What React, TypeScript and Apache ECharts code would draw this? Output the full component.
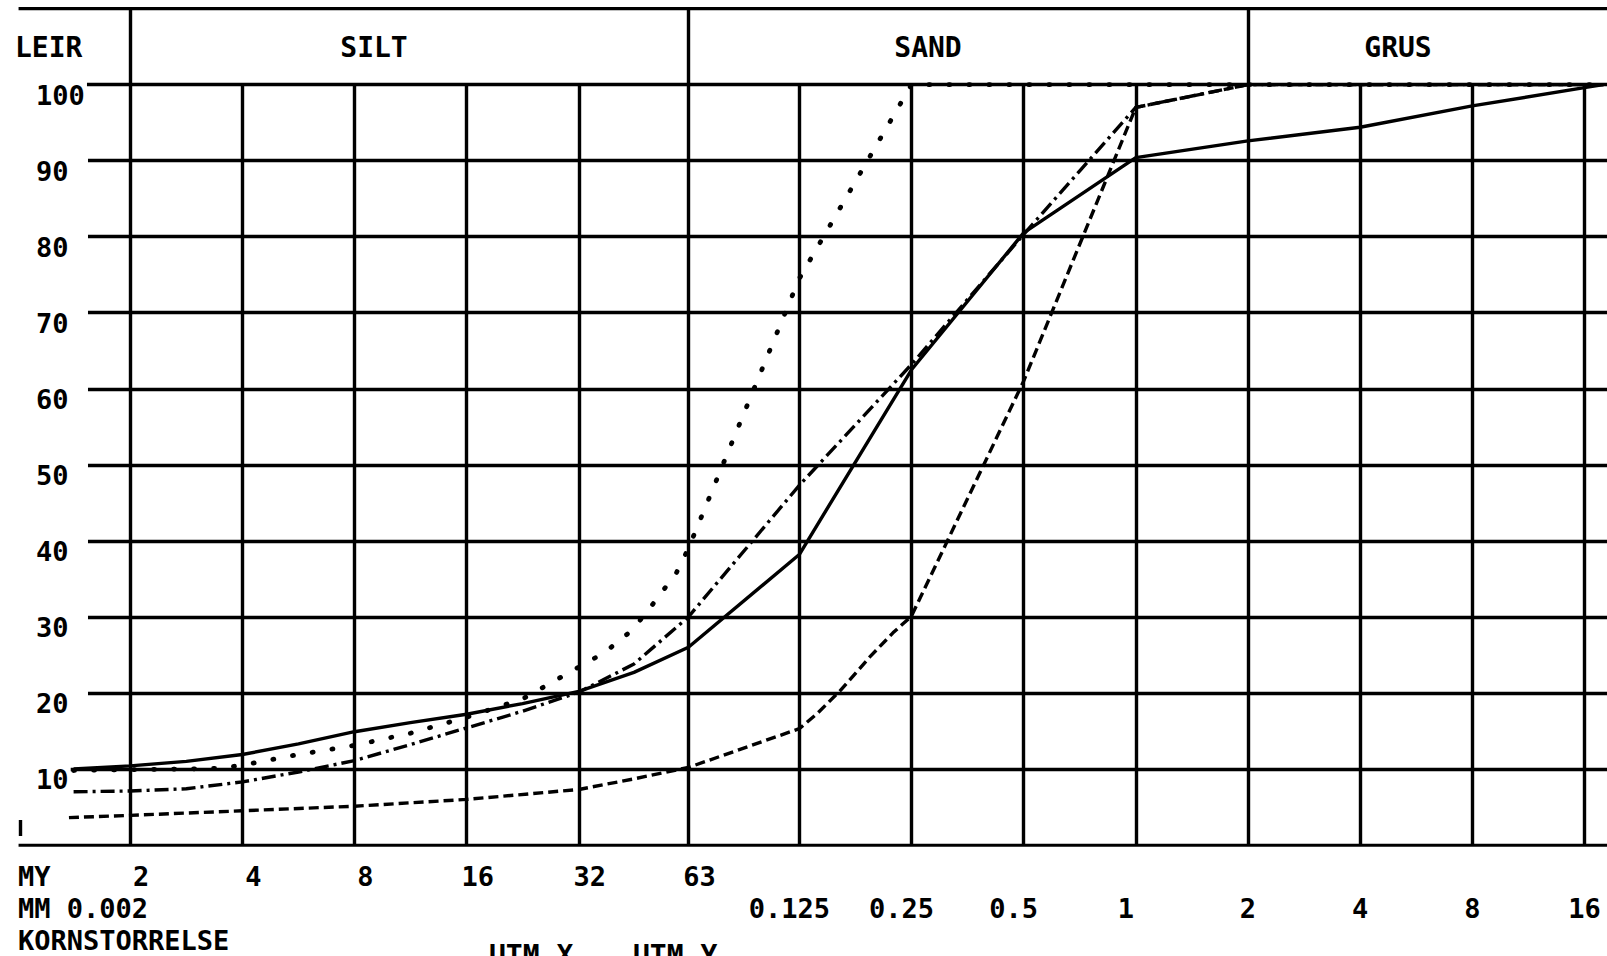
import React, { useEffect, useRef } from 'react';
import * as echarts from 'echarts';

// ---------- data (grain size in µm, cumulative percent) ----------
const gridSizesUm = [2, 4, 8, 16, 32, 63, 125, 250, 500, 1000, 2000, 4000, 8000, 16000];
const fractionBoundsUm = [2, 63, 2000];
const percentLevels = [0, 10, 20, 30, 40, 50, 60, 70, 80, 90, 100, 110];
const yTickValues = [10, 20, 30, 40, 50, 60, 70, 80, 90, 100];

const myTickSizesUm = [2, 4, 8, 16, 32, 63];
const myTickLabels = ['2', '4', '8', '16', '32', '63'];
const mmTickSizesUm = [125, 250, 500, 1000, 2000, 4000, 8000, 16000];
const mmTickLabels = ['0.125', '0.25', '0.5', '1', '2', '4', '8', '16'];

const fractionNames = ['LEIR', 'SILT', 'SAND', 'GRUS'];
const rowTitles = ['MY', 'MM 0.002', 'KORNSTORRELSE'];
const coordTitles = ['UTM X', 'UTM Y'];

const solidSizesUm = [1.41, 2, 2.83, 4, 5.66, 8, 11.3, 16, 22.6, 32, 45, 63, 125, 250, 500, 1000, 2000, 4000, 8000, 16000, 18000];
const solidPercent = [10.0, 10.4, 11.0, 11.9, 13.3, 14.9, 16.1, 17.2, 18.6, 20.2, 22.7, 26.0, 38.2, 62.5, 80.5, 90.4, 92.6, 94.4, 97.2, 99.6, 100];

const dashDotSizesUm = [1.41, 2, 2.83, 4, 5.66, 8, 11.3, 16, 22.6, 32, 45, 63, 125, 250, 500, 1000, 2000, 18000];
const dashDotPercent = [7.0, 7.1, 7.4, 8.3, 9.6, 11.1, 13.2, 15.4, 17.6, 20.1, 23.8, 30.0, 47.3, 63.2, 80.3, 97.0, 100, 100];

const dottedSizesUm = [1.41, 2, 2.83, 3.5, 4, 5.66, 8, 11.3, 16, 22.6, 32, 37.5, 44.6, 50.6, 58.5, 63, 125, 250, 18000];
const dottedPercent = [9.8, 9.9, 10.0, 10.1, 10.5, 11.9, 13.1, 14.7, 16.8, 19.2, 23.4, 25.3, 28.3, 31.7, 35.8, 39.0, 74.5, 100, 100];

const dashedSizesUm = [1.37, 2, 4, 8, 16, 32, 45, 63, 125, 139, 161, 193, 223, 250, 500, 1000, 2000, 18000];
const dashedPercent = [3.6, 3.9, 4.5, 5.1, 6.0, 7.3, 8.7, 10.2, 15.3, 17.2, 20.3, 24.7, 27.9, 30.1, 61.0, 97.0, 100, 100];

// ---------- layout / style constants ----------
const W = 1607;
const H = 956;
const X_MIN = 0; // log2(1 µm)
const X_MAX = 14.167;
const FONT = '"DejaVu Sans Mono", "Liberation Mono", monospace';
const BLACK = '#000';
const GRID_W = 3.4;
const CURVE_W = 3.4;
// MM-row labels that the plotter drew a little left of their grid line
const mmShiftedLeft = ['0.125', '0.25', '0.5', '1'];

const lg = (um: number) => Math.log2(um);
const pairs = (xs: number[], ys: number[]) => xs.map((s, i) => [lg(s), ys[i]]);

function hLineStart(level: number): number {
  if (level === 0 || level === 110) return X_MIN + 0.005;
  if (level === 10) return 0.47;
  if (level === 100) return 0.615;
  return 0.624;
}

function labelFor(sizes: number[], labels: string[]) {
  return (v: number) => {
    const i = sizes.findIndex((s) => Math.abs(lg(s) - v) < 1e-6);
    return i >= 0 ? labels[i] : '';
  };
}

export default function App() {
  const ref = useRef<HTMLDivElement>(null);

  useEffect(() => {
    if (!ref.current) return;
    const chart = echarts.init(ref.current, undefined, { renderer: 'svg' });

    const segments: number[][][] = [];
    percentLevels.forEach((p) => {
      segments.push([[hLineStart(p), p], [X_MAX, p]]);
    });
    gridSizesUm.forEach((s) => {
      const top = fractionBoundsUm.includes(s) ? 110 : 100;
      segments.push([[lg(s), 0], [lg(s), top]]);
    });
    segments.push([[0.02, 1.2], [0.02, 3.3]]);

    const curveBase = {
      type: 'line' as const,
      showSymbol: false,
      symbol: 'none',
      silent: true,
      z: 5,
      smooth: false,
    };

    const headerY = 47;
    const headerX = [15, 374, 928, 1398];
    const rowY = [876, 908, 940];
    const textFont = {
      color: BLACK,
      fontFamily: FONT,
      fontWeight: 'bold' as const,
      fontSize: 27,
      lineHeight: 26,
    };
    const mmFormatter = labelFor(mmTickSizesUm, mmTickLabels);

    const option: any = {
      animation: false,
      backgroundColor: '#fff',
      grid: { left: 18, right: 0, top: 8.6, bottom: 111, containLabel: false },
      xAxis: [
        {
          type: 'value',
          min: X_MIN,
          max: X_MAX,
          position: 'bottom',
          axisLine: { show: false },
          axisTick: { show: false },
          splitLine: { show: false },
          axisLabel: {
            customValues: myTickSizesUm.map(lg),
            formatter: labelFor(myTickSizesUm, myTickLabels),
            margin: 31,
            verticalAlign: 'middle',
            align: 'center',
            padding: [0, 0, 0, 22],
            ...textFont,
          },
        },
        {
          type: 'value',
          min: X_MIN,
          max: X_MAX,
          position: 'bottom',
          axisLine: { show: false },
          axisTick: { show: false },
          splitLine: { show: false },
          axisLabel: {
            customValues: mmTickSizesUm.map(lg),
            formatter: (v: number) => {
              const t = mmFormatter(v);
              return mmShiftedLeft.includes(t) ? `{s|${t}}` : `{n|${t}}`;
            },
            rich: {
              s: { ...textFont, padding: [0, 20, 0, 0] },
              n: { ...textFont },
            },
            margin: 63,
            verticalAlign: 'middle',
            align: 'center',
            ...textFont,
          },
        },
      ],
      yAxis: {
        type: 'value',
        min: 0,
        max: 110,
        interval: 10,
        axisLine: { show: false },
        axisTick: { show: false },
        splitLine: { show: false },
        axisLabel: {
          inside: true,
          customValues: yTickValues,
          formatter: (v: number) => String(v),
          margin: 18,
          align: 'left',
          verticalAlign: 'top',
          ...textFont,
          fontSize: 27,
          lineHeight: 22,
        },
      },
      series: [
        {
          type: 'lines',
          coordinateSystem: 'cartesian2d',
          polyline: false,
          silent: true,
          z: 1,
          lineStyle: { color: BLACK, width: GRID_W, opacity: 1, curveness: 0 },
          data: segments.map((c) => ({ coords: c })),
        },
        {
          ...curveBase,
          name: 'solid',
          data: pairs(solidSizesUm, solidPercent),
          lineStyle: { color: BLACK, width: CURVE_W, type: 'solid', join: 'round' },
        },
        {
          ...curveBase,
          name: 'dashdot',
          data: pairs(dashDotSizesUm, dashDotPercent),
          lineStyle: { color: BLACK, width: CURVE_W, type: [14, 5, 3, 5], join: 'round' },
        },
        {
          ...curveBase,
          name: 'dotted',
          data: pairs(dottedSizesUm, dottedPercent),
          lineStyle: { color: BLACK, width: 4.8, type: [1, 19], cap: 'round', join: 'round' },
        },
        {
          ...curveBase,
          name: 'dashed',
          data: pairs(dashedSizesUm, dashedPercent),
          lineStyle: { color: BLACK, width: CURVE_W, type: [10, 5], join: 'round' },
        },
      ],
      graphic: [
        ...fractionNames.map((t, i) => ({
          type: 'text',
          x: headerX[i],
          y: headerY,
          style: {
            text: t,
            font: `bold 28px ${FONT}`,
            fill: BLACK,
            lineHeight: 26,
            align: i === 0 ? 'left' : 'center',
            verticalAlign: 'middle',
            textAlign: i === 0 ? 'left' : 'center',
            textVerticalAlign: 'middle',
          },
        })),
        ...rowTitles.map((t, i) => ({
          type: 'text',
          x: 18,
          y: rowY[i],
          style: {
            text: t,
            font: `bold 27px ${FONT}`,
            fill: BLACK,
            lineHeight: 26,
            align: 'left',
            verticalAlign: 'middle',
            textAlign: 'left',
            textVerticalAlign: 'middle',
          },
        })),
        ...coordTitles.map((t, i) => ({
          type: 'text',
          x: [489, 633][i],
          y: 955,
          style: {
            text: t,
            font: `bold 28px ${FONT}`,
            fill: BLACK,
            lineHeight: 26,
            align: 'left',
            verticalAlign: 'middle',
            textAlign: 'left',
            textVerticalAlign: 'middle',
          },
        })),
      ],
    };

    chart.setOption(option);
    return () => chart.dispose();
  }, []);

  return (
    <div
      ref={ref}
      style={{ position: 'fixed', left: 0, top: 0, width: W, height: H, background: '#fff' }}
    />
  );
}
